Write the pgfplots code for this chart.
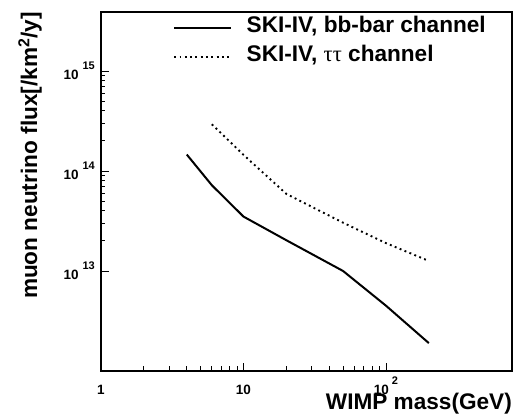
\documentclass[border=0pt]{standalone}
\usepackage{fontspec}
\setmainfont{Liberation Sans}
\newfontfamily\grk{Liberation Serif}
\usepackage{pgfplots}
\pgfplotsset{compat=1.18}
% ROOT-like power-of-ten tick label
\newcommand{\tlab}[2][4pt]{\textbf{10}\hspace{#1}\raisebox{10pt}{\fontsize{11}{12}\selectfont\textbf{#2}}}
\begin{document}
\begin{tikzpicture}
\begin{axis}[
    scale only axis,
    width=411pt, height=359pt,
    xmode=log, ymode=log,
    xmin=1, xmax=767,
    ymin=1e12, ymax=3.89e15,
    xtick={1,10,100},
    xticklabels={\textbf{1},\textbf{10},\tlab[3pt]{2}},
    ytick={1e13,1e14,1e15},
    yticklabels={\tlab{13},\tlab{14},\tlab{15}},
    tick pos=left,
    tick align=inside,
    major tick length=8pt,
    minor tick length=4.5pt,
    every tick/.style={black, line width=0.9pt},
    axis line style={line width=1.1pt},
    ticklabel style={font=\fontsize{13.5}{15}\selectfont},
    xticklabel style={anchor=base, yshift=-24pt},
    yticklabel style={anchor=east, inner sep=0pt, xshift=-6pt},
    xlabel={WIMP mass(GeV)},
    ylabel={muon neutrino flux[/km\textsuperscript{2}/y]},
    label style={font=\fontsize{22.6}{26}\selectfont\bfseries},
    xlabel style={at={(axis description cs:1,-0.1086)}, anchor=base east, inner sep=0pt},
    ylabel style={at={(axis description cs:-0.1557,1)}, anchor=base east, inner sep=0pt},
    legend style={
        at={(rel axis cs:0.1752,0.9900)}, anchor=north west,
        draw=none, fill=none, inner sep=0pt,
        font=\fontsize{22.6}{26}\selectfont\bfseries,
        nodes={inner sep=0pt, text height=17pt, text depth=5pt},
        row sep=7pt, column sep=14.5pt,
    },
    legend cell align=left,
    legend image code/.code={\path (0pt,0pt) (0pt,8.65pt); \draw[#1] (0pt,-1pt) -- (57pt,-1pt);},
]

% bb-bar channel
\addplot[black, line width=2pt] coordinates {
    (4,1.46e14) (6,7.2e13) (10,3.5e13) (20,2.03e13)
    (50,1.0e13) (100,4.5e12) (200,1.9e12)
};
\addlegendentry{SKI-IV, bb-bar channel}

% tau tau channel
\addplot[black, line width=1.9pt, dash pattern=on 1.9pt off 3.4pt] coordinates {
    (6,2.93e14) (10,1.45e14) (20,5.9e13)
    (50,3.04e13) (100,1.9e13) (200,1.26e13)
};
\addlegendentry{SKI-IV, {\mdseries\grk ττ} channel}

\end{axis}
\pgfresetboundingbox
\path[use as bounding box] (-101pt,-45pt) rectangle (413pt,371pt);
\end{tikzpicture}
\end{document}
